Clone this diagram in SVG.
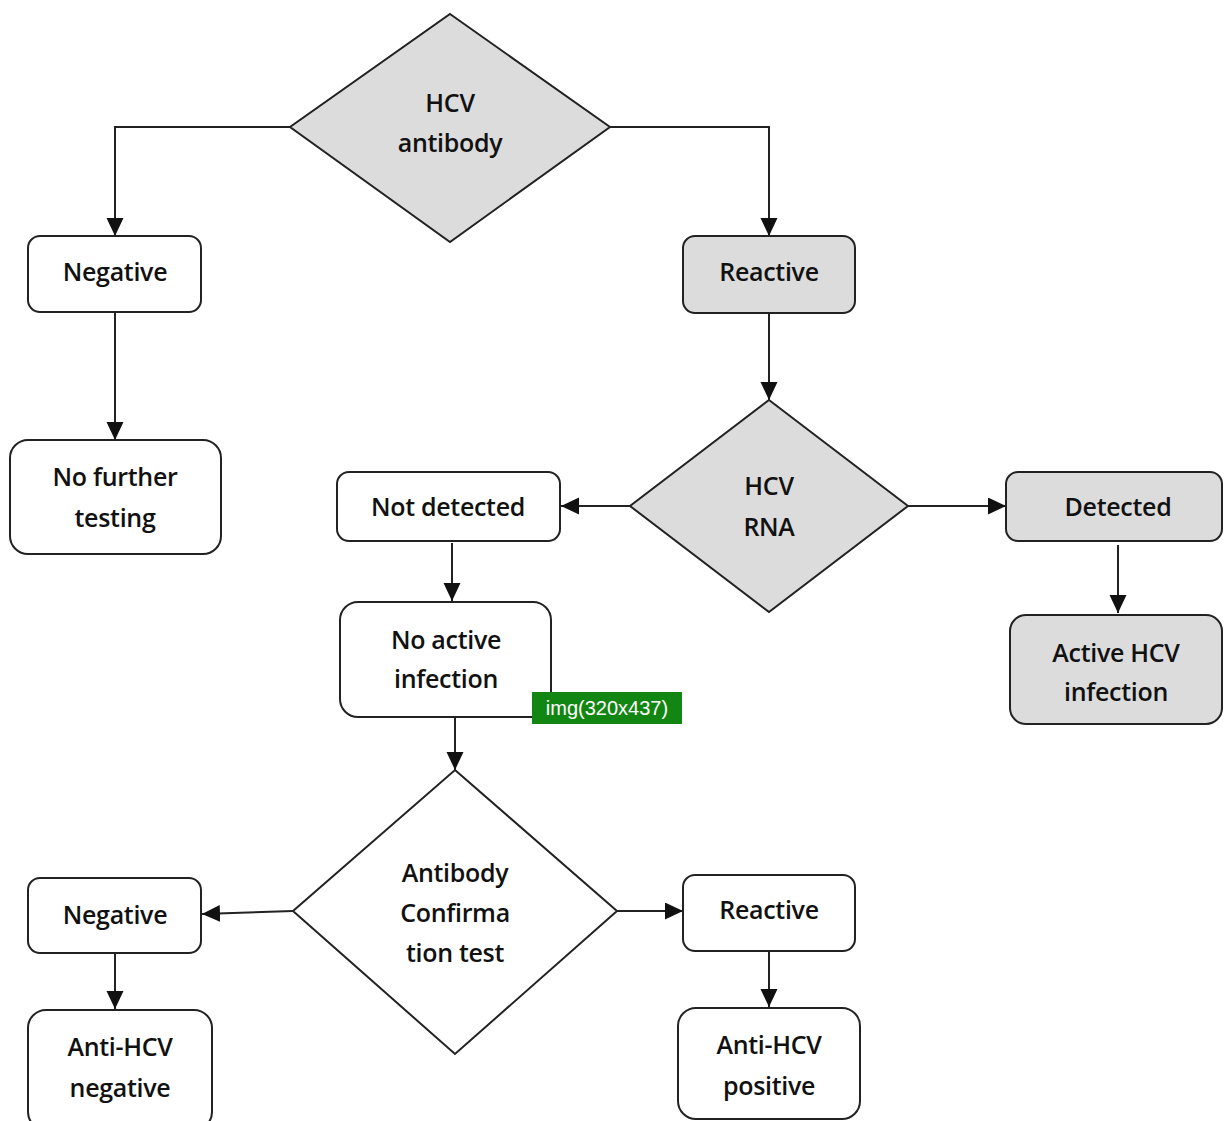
<svg xmlns="http://www.w3.org/2000/svg" width="1225" height="1121" viewBox="0 0 1225 1121">
<defs>
<style>
.box{stroke:#222;stroke-width:2;fill:#fff}
.gray{fill:#dcdcdc}
.dia{stroke:#222;stroke-width:2;fill:#dcdcdc}
.diaw{stroke:#222;stroke-width:2;fill:#fff}
.t{font-family:"Open Sans","Liberation Sans",sans-serif;font-size:25px;font-weight:600;fill:#111;text-anchor:middle;dominant-baseline:central;letter-spacing:-0.3px}
.c{stroke:#222;stroke-width:2;fill:none;marker-end:url(#ah)}
</style>
<marker id="ah" markerUnits="userSpaceOnUse" markerWidth="18" markerHeight="18" refX="18" refY="8.5" orient="auto">
<path d="M0,0 L18,8.5 L0,17 Z" fill="#111"/>
</marker>
</defs>
<rect width="1225" height="1121" fill="#fff"/>
<g id="connectors">
<path class="c" d="M290,127 H115 V236"/>
<path class="c" d="M610,127 H769 V236"/>
<path class="c" d="M115,312 V440"/>
<path class="c" d="M769,313 V400"/>
<path class="c" d="M630,506 H561"/>
<path class="c" d="M908,506 H1006"/>
<path class="c" d="M1118,545 V613"/>
<path class="c" d="M452,543 V601"/>
<path class="c" d="M455,717 V770"/>
<path class="c" d="M293,911 L202,914"/>
<path class="c" d="M617,911 H683"/>
<path class="c" d="M115,953 V1009"/>
<path class="c" d="M769,951 V1007"/>
</g>
<g id="hcv-antibody">
<polygon class="dia" points="450,14 610,127 450,242 290,127"/>
<text class="t" x="450" y="102">HCV</text>
<text class="t" x="450" y="142">antibody</text>
</g>
<g id="negative1">
<rect class="box" x="28" y="236" width="173" height="76" rx="12"/>
<text class="t" x="115" y="271">Negative</text>
</g>
<g id="no-further">
<rect class="box" x="10" y="440" width="211" height="114" rx="18"/>
<text class="t" x="115" y="476">No further</text>
<text class="t" x="115" y="517">testing</text>
</g>
<g id="reactive1">
<rect class="box gray" x="683" y="236" width="172" height="77" rx="12"/>
<text class="t" x="769" y="271">Reactive</text>
</g>
<g id="hcv-rna">
<polygon class="dia" points="769,400 908,506 769,612 630,506"/>
<text class="t" x="769" y="485">HCV</text>
<text class="t" x="769" y="526">RNA</text>
</g>
<g id="not-detected">
<rect class="box" x="337" y="472" width="223" height="69" rx="12"/>
<text class="t" x="448" y="506">Not detected</text>
</g>
<g id="detected">
<rect class="box gray" x="1006" y="472" width="216" height="69" rx="12"/>
<text class="t" x="1118" y="506">Detected</text>
</g>
<g id="active-infection">
<rect class="box gray" x="1010" y="615" width="212" height="109" rx="16"/>
<text class="t" x="1116" y="652">Active HCV</text>
<text class="t" x="1116" y="691">infection</text>
</g>
<g id="no-active">
<rect class="box" x="340" y="602" width="211" height="115" rx="18"/>
<text class="t" x="446" y="639">No active</text>
<text class="t" x="446" y="678">infection</text>
</g>
<g id="img-label">
<rect x="532" y="692" width="150" height="32" fill="#128612"/>
<text x="607" y="708" font-family="Liberation Sans,Arial,sans-serif" font-size="20" fill="#fff" text-anchor="middle" dominant-baseline="central">img(320x437)</text>
</g>
<g id="confirmation">
<polygon class="diaw" points="455,770 617,911 455,1054 293,911"/>
<text class="t" x="455" y="872">Antibody</text>
<text class="t" x="455" y="912">Confirma</text>
<text class="t" x="455" y="952">tion test</text>
</g>
<g id="negative2">
<rect class="box" x="28" y="878" width="173" height="75" rx="12"/>
<text class="t" x="115" y="914">Negative</text>
</g>
<g id="reactive2">
<rect class="box" x="683" y="875" width="172" height="76" rx="12"/>
<text class="t" x="769" y="909">Reactive</text>
</g>
<g id="anti-neg">
<rect class="box" x="28" y="1010" width="184" height="120" rx="18"/>
<text class="t" x="120" y="1046">Anti-HCV</text>
<text class="t" x="120" y="1087">negative</text>
</g>
<g id="anti-pos">
<rect class="box" x="678" y="1008" width="182" height="111" rx="18"/>
<text class="t" x="769" y="1044">Anti-HCV</text>
<text class="t" x="769" y="1085">positive</text>
</g>
</svg>
